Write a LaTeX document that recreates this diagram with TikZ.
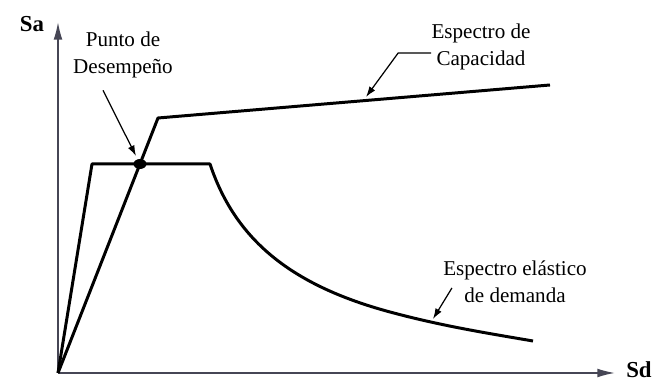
\documentclass[tikz,border=0pt]{standalone}
\usepackage{fontspec}
\setmainfont{Liberation Serif}
\usetikzlibrary{arrows.meta}
\definecolor{gris}{RGB}{70,70,85}
\tikzstyle{texto}=[inner sep=0pt,align=center,font=\rmfamily\fontsize{12}{15.3}\selectfont]
\tikzstyle{ejetxt}=[inner sep=0pt,font=\rmfamily\bfseries\fontsize{13}{15}\selectfont]
\tikzstyle{eje}=[line width=0.9pt,draw=gris,-{Latex[length=10pt,width=5pt]}]
\tikzstyle{espectro}=[line width=1.7pt,line join=round]
\tikzstyle{flecha}=[line width=0.7pt,-{Latex[length=6pt,width=4pt]}]

\begin{document}
\begin{tikzpicture}
    \useasboundingbox (0,0) rectangle (13.24,7.66);
    \coordinate (O) at (1.16,0.2);
    \coordinate (ymax) at (1.16,7.22);
    \coordinate (xmax) at (12.3,0.2);
    \coordinate (punto) at (2.8,4.38);
    \coordinate (tipcap) at (7.32,5.72);
    \coordinate (tipdem) at (8.66,1.28);
    % ejes
    \draw [eje] (O) -- (ymax);
    \draw [eje] (O) -- (xmax);
    \node [ejetxt] (Sa) at (0.64,7.18) {Sa};
    \node [ejetxt] (Sd) at (12.78,0.26) {Sd};
    % espectros
    \draw [espectro] (O) -- (1.84,4.38) -- (4.2,4.38)
        .. controls (4.7,2.88) and (5.8,1.96) .. (7.8,1.42)
        .. controls (8.8,1.15) and (9.66,1.01) .. (10.66,0.84);
    \draw [espectro] (O) -- (3.16,5.3) -- (11.0,5.96);
    \fill (punto) ellipse [x radius=0.13, y radius=0.1];
    % etiquetas
    \node [texto] (lblpunto) at (2.46,6.56) {Punto de\\Desempeño};
    \node [texto] (lblcap) at (9.62,6.72) {Espectro de\\Capacidad};
    \node [texto] (lbldem) at (10.3,2.02) {Espectro elástico\\de demanda};
    \draw [flecha,shorten >=0.18cm] ([xshift=-4mm,yshift=-2.4mm]lblpunto.south) -- (punto);
    \draw [flecha] ([yshift=-1.2mm]lblcap.west) -- ++(-0.66,0) -- (tipcap);
    \draw [flecha] ([xshift=1.8mm,yshift=-1.2mm]lbldem.west) -- (tipdem);
\end{tikzpicture}
\end{document}
